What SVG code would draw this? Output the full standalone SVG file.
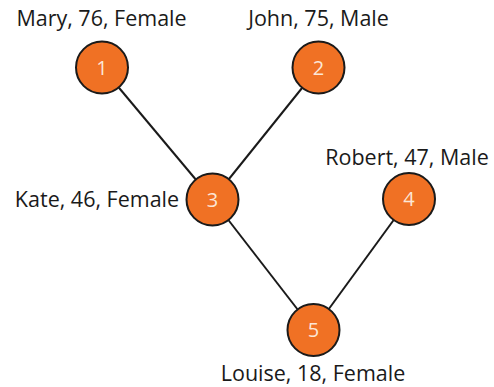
<svg xmlns="http://www.w3.org/2000/svg" width="494" height="387" viewBox="0 0 494 387">
<style>
.node circle{fill:#F07124;stroke:#1a1a1a;stroke-width:2}
.num{font-family:"Open Sans","Liberation Sans",sans-serif;font-size:20px;fill:#FCE6D6;text-anchor:middle}
.lbl{font-family:"Open Sans","Liberation Sans",sans-serif;font-size:21.5px;fill:#1a1a1a;text-anchor:middle}
#edges line{stroke:#1a1a1a;stroke-width:2}
</style>
<rect width="494" height="387" fill="#fff"/>
<g id="edges">
<line x1="102" y1="67.5" x2="212.5" y2="199.5"/>
<line x1="318.5" y1="67.5" x2="212.5" y2="199.5"/>
<line x1="212.5" y1="199.5" x2="313.5" y2="330"/>
<line x1="409" y1="199" x2="313.5" y2="330"/>
</g>
<g id="node1" class="node">
<circle cx="102" cy="67.5" r="26"/>
<text class="num" x="102" y="74.5">1</text>
<text class="lbl" x="101.5" y="26">Mary, 76, Female</text>
</g>
<g id="node2" class="node">
<circle cx="318.5" cy="67.5" r="26"/>
<text class="num" x="318.5" y="74.5">2</text>
<text class="lbl" x="318.5" y="26">John, 75, Male</text>
</g>
<g id="node3" class="node">
<circle cx="212.5" cy="199.5" r="26"/>
<text class="num" x="212.5" y="206.5">3</text>
<text class="lbl" x="97" y="207">Kate, 46, Female</text>
</g>
<g id="node4" class="node">
<circle cx="409" cy="199" r="26"/>
<text class="num" x="409" y="206">4</text>
<text class="lbl" x="407" y="165">Robert, 47, Male</text>
</g>
<g id="node5" class="node">
<circle cx="313.5" cy="330" r="26"/>
<text class="num" x="313.5" y="337">5</text>
<text class="lbl" x="313" y="381">Louise, 18, Female</text>
</g>
</svg>
